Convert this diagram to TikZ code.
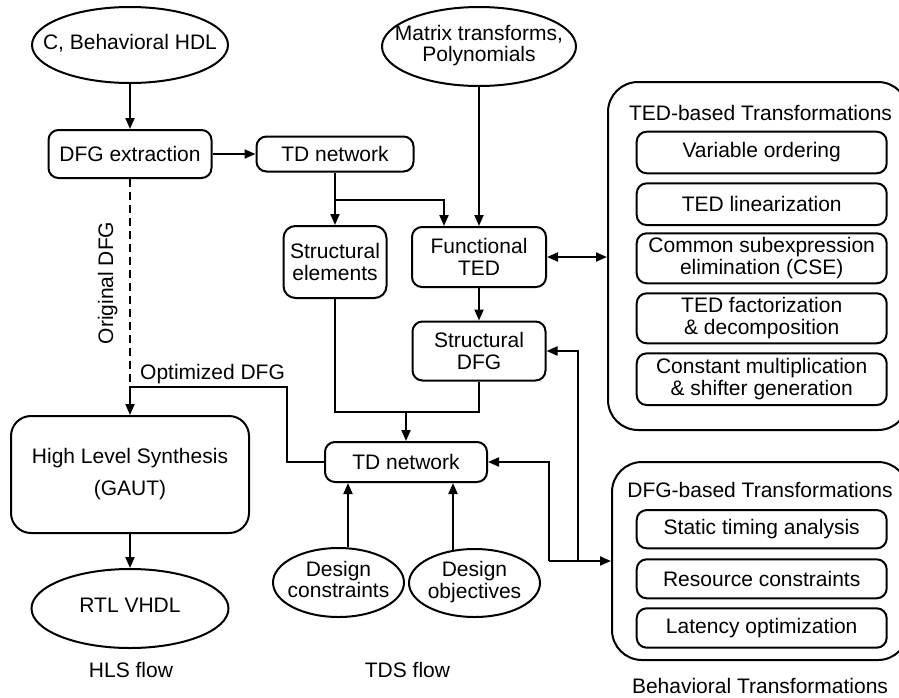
\documentclass[tikz,border=0pt]{standalone}
\usepackage{fontspec}
\setmainfont{Liberation Sans}
\usetikzlibrary{shapes.geometric,arrows.meta}
\newcommand\ovtxt[1]{\makebox[0pt]{\begin{tabular}{@{}c@{}}#1\end{tabular}}}
\begin{document}
\begin{tikzpicture}[x=1pt,y=-1pt,
  every node/.style={font=\fontsize{21}{21.5}\selectfont},
  lw/.style={line width=2pt},
  box/.style={draw,lw,rounded corners=10pt,inner sep=0pt,align=center},
  oval/.style={draw,lw,ellipse,inner sep=0pt,align=center},
  panel/.style={draw,lw,rounded corners=30pt,inner sep=0pt},
  arr/.style={lw,-{Triangle[length=11pt,width=9pt]}},
  darr/.style={lw,{Triangle[length=11pt,width=9pt]}-{Triangle[length=11pt,width=9pt]}},
  lbl/.style={inner sep=0pt}
]
\useasboundingbox (0,0) rectangle (899,697);
\clip (0,0) rectangle (899,697);

% left column
\node[oval,minimum width=196pt,minimum height=76pt] (chdl) at (130,45) {\ovtxt{C, Behavioral HDL}};
\node[box,minimum width=163pt,minimum height=48pt] (dfgx) at (130,154) {DFG extraction};
\node[box,minimum width=238pt,minimum height=117pt,rounded corners=20pt,font=\fontsize{21}{32}\selectfont] (hls) at (130,474.5) {High Level Synthesis\\(GAUT)};
\node[oval,minimum width=197pt,minimum height=79pt] (rtl) at (130,608.5) {\ovtxt{RTL VHDL}};

% middle column
\node[box,minimum width=157pt,minimum height=35pt] (tda) at (335,154) {TD network};
\node[oval,minimum width=194pt,minimum height=79pt] (mtx) at (479,46.5) {\ovtxt{Matrix transforms,\\Polynomials}};
\node[box,minimum width=103pt,minimum height=72pt,rounded corners=12pt] (sel) at (335,262) {Structural\\elements};
\node[box,minimum width=134pt,minimum height=60pt] (fted) at (479,257) {Functional\\TED};
\node[box,minimum width=133pt,minimum height=59pt] (sdfg) at (479,351) {Structural\\DFG};
\node[box,minimum width=162pt,minimum height=40pt] (tdb) at (406,462) {TD network};
\node[oval,minimum width=131pt,minimum height=69pt] (dcon) at (338.5,582.5) {\ovtxt{Design\\constraints}};
\node[oval,minimum width=131pt,minimum height=68pt] (dobj) at (474.5,583) {\ovtxt{Design\\objectives}};

% right panels
\node[panel,minimum width=300pt,minimum height=348pt] (tedp) at (758,256) {};
\node[lbl] (tedt) at (760.5,113) {TED-based Transformations};
\node[box,minimum width=250pt,minimum height=41.6pt] (vo) at (761.7,152.5) {Variable ordering};
\node[box,minimum width=250pt,minimum height=41.7pt] (tl) at (761.7,204.2) {TED linearization};
\node[box,minimum width=250pt,minimum height=50pt] (cse) at (761.7,258.3) {Common subexpression\\elimination (CSE)};
\node[box,minimum width=250pt,minimum height=50pt] (tf) at (761.7,318.3) {TED factorization\\\& decomposition};
\node[box,minimum width=250pt,minimum height=51.7pt] (cm) at (761.7,379.2) {Constant multiplication\\\& shifter generation};

\node[panel,minimum width=296pt,minimum height=198pt] (dfgp) at (760,561) {};
\node[lbl] (dfgt) at (760,490) {DFG-based Transformations};
\node[box,minimum width=250pt,minimum height=38.3pt] (sta) at (761.7,529.2) {Static timing analysis};
\node[box,minimum width=250pt,minimum height=39pt] (rc) at (761.7,578.8) {Resource constraints};
\node[box,minimum width=250pt,minimum height=39.4pt] (lo) at (761.7,628) {Latency optimization};

% captions
\node[anchor=base] (hlsf) at (131,677) {HLS flow};
\node[anchor=base] (tdsf) at (407.5,677) {TDS flow};
\node[anchor=base] (bhvf) at (760,693) {Behavioral Transformations};
\node[anchor=base west,inner sep=0pt] (optl) at (140,379) {Optimized DFG};
\node[rotate=90,anchor=base,inner sep=0pt] (orgl) at (113,283) {Original DFG};

% coordinates
\coordinate (br) at (335,200);
\coordinate (mj) at (406,412);
\coordinate (oc) at (287,387);
\coordinate (od) at (130,387);
\coordinate (rb) at (549,561);
\coordinate (rj) at (578,561);

% connectors
\draw[arr] (chdl.south) -- (dfgx.north);
\draw[arr] (dfgx.east) -- (tda.west);
\draw[arr] (tda.south) -- (br) -- (sel.north);
\draw[arr] (br) -| ([xshift=-35pt]fted.north);
\draw[arr] (mtx.south) -- (mtx.south |- fted.north);
\draw[darr] (fted.east) -- (fted.east -| tedp.west);
\draw[arr] (fted.south) -- (sdfg.north);
\draw[lw] (sel.south) |- (mj) -| (sdfg.south);
\draw[arr] (mj) -- (tdb.north);
\draw[arr] (tdb.west) -| (oc) -- (od) -- (hls.north);
\draw[lw,dash pattern=on 8pt off 5pt] (dfgx.south) -- (od);
\draw[arr] (hls.south) -- (rtl.north);
\draw[arr] ([xshift=9.5pt]dcon.north) -- ([xshift=9.5pt]dcon.north |- tdb.south);
\draw[arr] ([xshift=-21.5pt,yshift=-2pt]dobj.north) -- ([xshift=-21.5pt]dobj.north |- tdb.south);
\draw[arr] (rb) -- (rb -| dfgp.west);
\draw[arr] (rb) |- (tdb.east);
\draw[arr] (rj) |- (sdfg.east);
\end{tikzpicture}
\end{document}
